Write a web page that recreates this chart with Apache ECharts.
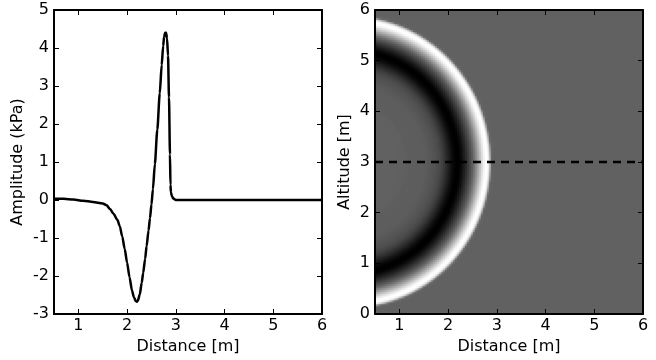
<!DOCTYPE html>
<html><head><meta charset="utf-8">
<script src="https://cdn.jsdelivr.net/npm/echarts@6/dist/echarts.min.js"></script>
<style>html,body{margin:0;padding:0;background:#fff}#c{width:656px;height:360px}</style>
</head><body><div id="c"></div>
<script>
// Pressure profile along the dashed line (distance in m, amplitude in kPa)
const distance = [0.50, 0.70, 0.90, 1.10, 1.30, 1.50, 1.58, 1.65, 1.72, 1.80, 1.85, 1.90, 1.95, 2.00, 2.05, 2.10, 2.14, 2.18, 2.20, 2.22, 2.26, 2.30, 2.33, 2.37, 2.40, 2.44, 2.47, 2.50, 2.53, 2.57, 2.62, 2.67, 2.71, 2.74, 2.76, 2.78, 2.80, 2.82, 2.84, 2.86, 2.88, 2.89, 2.90, 2.92, 2.95, 3.00, 3.50, 4.00, 5.00, 6.00, 7.00];
const amplitude = [0.03, 0.03, 0.01, -0.02, -0.05, -0.09, -0.14, -0.24, -0.36, -0.52, -0.69, -0.96, -1.28, -1.65, -2.03, -2.38, -2.56, -2.66, -2.68, -2.65, -2.49, -2.18, -1.92, -1.55, -1.22, -0.80, -0.48, -0.12, 0.28, 0.95, 1.85, 2.80, 3.55, 4.05, 4.30, 4.40, 4.40, 4.25, 3.80, 2.70, 1.20, 0.40, 0.20, 0.10, 0.04, 0.00, 0.00, 0.00, 0.00, 0.00, 0.00];
const distanceTicks = [1, 2, 3, 4, 5, 6];
const amplitudeTicks = [-3, -2, -1, 0, 1, 2, 3, 4, 5];
const altitudeTicks = [0, 1, 2, 3, 4, 5, 6];
const distanceRange = [0.5, 6];
const altitudeRange = [0, 6];
const sourcePosition = [0, 3];   // wave source (distance, altitude)
const probeAltitude = 3;         // dashed line altitude

// radial field on the right panel, built from the profile above
function ampAt(r) {
  if (r <= distance[0]) return amplitude[0];
  for (let k = 1; k < distance.length; k++) {
    if (r <= distance[k]) {
      const t = (r - distance[k - 1]) / (distance[k] - distance[k - 1]);
      return amplitude[k - 1] + t * (amplitude[k] - amplitude[k - 1]);
    }
  }
  return amplitude[amplitude.length - 1];
}
const NX = 134, NY = 152;
const xCats = [], yCats = [], field = [];
for (let i = 0; i < NX; i++) xCats.push(i);
for (let j = 0; j < NY; j++) yCats.push(j);
for (let i = 0; i < NX; i++) {
  const x = distanceRange[0] + (i + 0.5) * (distanceRange[1] - distanceRange[0]) / NX;
  for (let j = 0; j < NY; j++) {
    const y = altitudeRange[0] + (j + 0.5) * (altitudeRange[1] - altitudeRange[0]) / NY;
    field.push([i, j, ampAt(Math.hypot(x - sourcePosition[0], y - sourcePosition[1]))]);
  }
}

const FONT = 'DejaVu Sans';
const lbl = { color: '#000', fontSize: 16, fontFamily: FONT };
const frameLine = { show: true, onZero: false, lineStyle: { color: '#000', width: 2 } };
function tick(vals) { return { show: true, inside: true, length: 5, lineStyle: { color: '#000', width: 1 }, customValues: vals }; }

const chart = echarts.init(document.getElementById('c'), null, { renderer: 'canvas' });
chart.setOption({
  animation: false,
  textStyle: { fontFamily: FONT },
  grid: [
    { left: 54, top: 10, width: 268, height: 304 },
    { left: 375, top: 10, width: 268, height: 304 },
    { left: 375, top: 10, width: 268, height: 304 }
  ],
  visualMap: { show: false, type: 'continuous', seriesIndex: 1, dimension: 2,
    min: Math.min(...amplitude), max: Math.max(...amplitude),
    inRange: { color: ['#000000', '#ffffff'] } },
  xAxis: [
    { gridIndex: 0, type: 'value', position: 'bottom', min: distanceRange[0], max: distanceRange[1], z: 10,
      axisLine: frameLine, axisTick: tick(distanceTicks), splitLine: { show: false },
      axisLabel: Object.assign({ customValues: distanceTicks, margin: 4 }, lbl),
      name: 'Distance [m]', nameLocation: 'middle', nameGap: 21, nameTextStyle: lbl },
    { gridIndex: 0, type: 'value', position: 'top', min: distanceRange[0], max: distanceRange[1], z: 10,
      axisLine: frameLine, axisTick: tick(distanceTicks), splitLine: { show: false }, axisLabel: { show: false } },
    { gridIndex: 1, type: 'value', position: 'bottom', min: distanceRange[0], max: distanceRange[1], z: 10,
      axisLine: frameLine, axisTick: tick(distanceTicks), splitLine: { show: false },
      axisLabel: Object.assign({ customValues: distanceTicks, margin: 4 }, lbl),
      name: 'Distance [m]', nameLocation: 'middle', nameGap: 21, nameTextStyle: lbl },
    { gridIndex: 1, type: 'value', position: 'top', min: distanceRange[0], max: distanceRange[1], z: 10,
      axisLine: frameLine, axisTick: tick(distanceTicks), splitLine: { show: false }, axisLabel: { show: false } },
    { gridIndex: 2, type: 'category', data: xCats, show: false }
  ],
  yAxis: [
    { gridIndex: 0, type: 'value', position: 'left', min: -3, max: 5, z: 10,
      axisLine: frameLine, axisTick: tick(amplitudeTicks), splitLine: { show: false },
      axisLabel: Object.assign({ customValues: amplitudeTicks, margin: 5 }, lbl),
      name: 'Amplitude (kPa)', nameLocation: 'middle', nameGap: 28, nameTextStyle: lbl },
    { gridIndex: 0, type: 'value', position: 'right', min: -3, max: 5, z: 10,
      axisLine: frameLine, axisTick: tick(amplitudeTicks), splitLine: { show: false }, axisLabel: { show: false } },
    { gridIndex: 1, type: 'value', position: 'left', min: altitudeRange[0], max: altitudeRange[1], z: 10,
      axisLine: frameLine, axisTick: tick(altitudeTicks), splitLine: { show: false },
      axisLabel: Object.assign({ customValues: altitudeTicks, margin: 5 }, lbl),
      name: 'Altitude [m]', nameLocation: 'middle', nameGap: 22, nameTextStyle: lbl },
    { gridIndex: 1, type: 'value', position: 'right', min: altitudeRange[0], max: altitudeRange[1], z: 10,
      axisLine: frameLine, axisTick: tick(altitudeTicks), splitLine: { show: false }, axisLabel: { show: false } },
    { gridIndex: 2, type: 'category', data: yCats, show: false }
  ],
  series: [
    { type: 'line', xAxisIndex: 0, yAxisIndex: 0, showSymbol: false, z: 5,
      smooth: 0.25, smoothMonotone: 'x',
      data: distance.filter(d => d <= distanceRange[1]).map((d, i) => [d, amplitude[i]]),
      lineStyle: { color: '#000', width: 2.5, join: 'round' } },
    { type: 'heatmap', xAxisIndex: 4, yAxisIndex: 4, data: field, progressive: 0, z: 1,
      itemStyle: { borderWidth: 0 }, emphasis: { disabled: true } },
    { type: 'line', xAxisIndex: 2, yAxisIndex: 2, showSymbol: false, z: 5,
      data: [[distanceRange[0], probeAltitude], [distanceRange[1], probeAltitude]],
      lineStyle: { color: '#000', width: 2.5, type: [8, 6] } }
  ]
});
</script></body></html>
